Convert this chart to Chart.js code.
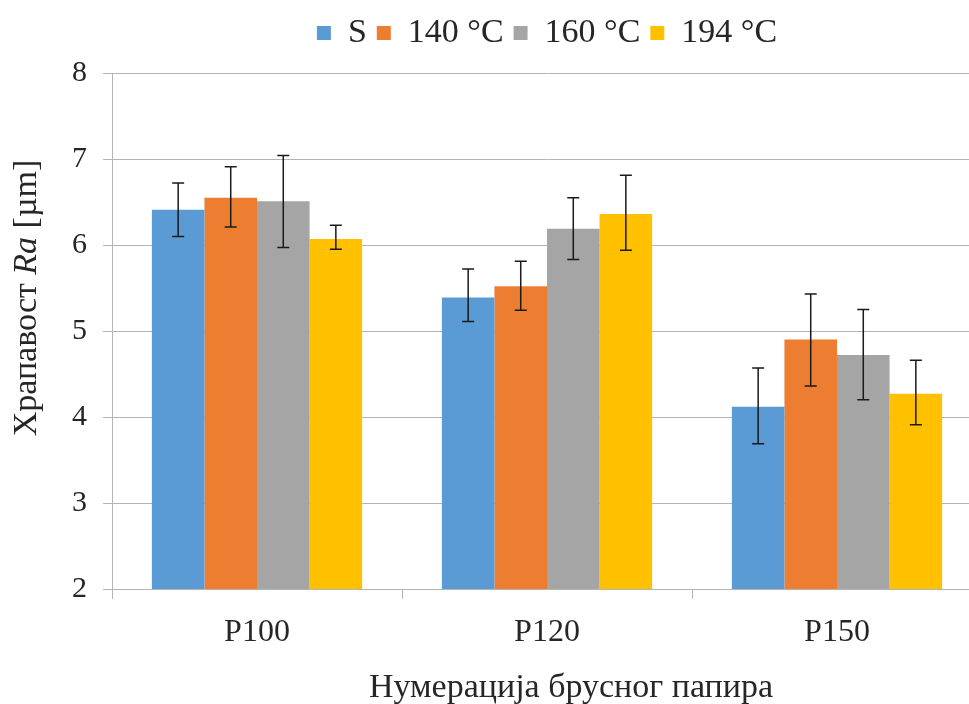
<!DOCTYPE html>
<html>
<head>
<meta charset="utf-8">
<script src="https://cdn.jsdelivr.net/npm/chart.js@4/dist/chart.umd.min.js"></script>
<style>
  html, body { margin: 0; padding: 0; background: #fff; overflow: hidden; }
  #wrap { width: 982px; height: 704px; }
</style>
</head>
<body>
<div id="wrap"><canvas id="chart" width="982" height="704"></canvas></div>
<script>
// data
const categories = ['P100', 'P120', 'P150'];
const seriesNames = ['S', '140 °C', '160 °C', '194 °C'];
const seriesColors = ['#5b9bd5', '#ed7d31', '#a5a5a5', '#ffc000'];

const valuesS   = [6.41, 5.39, 4.12];
const values140 = [6.55, 5.52, 4.90];
const values160 = [6.51, 6.19, 4.72];
const values194 = [6.07, 6.36, 4.27];

// error bar ends (upper / lower)
const errHighS   = [6.72, 5.72, 4.57];
const errLowS    = [6.10, 5.11, 3.69];
const errHigh140 = [6.91, 5.81, 5.43];
const errLow140  = [6.21, 5.24, 4.36];
const errHigh160 = [7.04, 6.55, 5.25];
const errLow160  = [5.97, 5.83, 4.20];
const errHigh194 = [6.23, 6.81, 4.66];
const errLow194  = [5.95, 5.94, 3.91];

const yTicks = [2, 3, 4, 5, 6, 7, 8];
const yTitle = ['Храпавост ', 'Ra', ' [µm]'];
const xTitle = 'Нумерација брусног папира';

const serif = "'Liberation Serif', 'DejaVu Serif', serif";
const textColor = '#262626';
const lineColor = '#b4b4b4';

const allValues = [valuesS, values140, values160, values194];
const allHigh = [errHighS, errHigh140, errHigh160, errHigh194];
const allLow = [errLowS, errLow140, errLow160, errLow194];

// error bars drawn through the y scale
const errorBars = {
    id: 'errorBars',
    afterDatasetsDraw(chart) {
        const ctx = chart.ctx;
        const y = chart.scales.y;
        ctx.save();
        ctx.strokeStyle = '#1a1a1a';
        ctx.lineWidth = 1.5;
        chart.data.datasets.forEach((ds, i) => {
            const meta = chart.getDatasetMeta(i);
            meta.data.forEach((bar, j) => {
                const yh = y.getPixelForValue(allHigh[i][j]);
                const yl = y.getPixelForValue(allLow[i][j]);
                const x = bar.x;
                ctx.beginPath();
                ctx.moveTo(x, yh); ctx.lineTo(x, yl);
                ctx.moveTo(x - 6, yh); ctx.lineTo(x + 6, yh);
                ctx.moveTo(x - 6, yl); ctx.lineTo(x + 6, yl);
                ctx.stroke();
            });
        });
        ctx.restore();
    }
};

// axis titles (y title has an italic part)
const axisTitles = {
    id: 'axisTitles',
    afterDraw(chart) {
        const ctx = chart.ctx;
        ctx.save();
        ctx.fillStyle = textColor;
        ctx.textBaseline = 'middle';

        // y title
        const fonts = ['34px ' + serif, 'italic 34px ' + serif, '34px ' + serif];
        let total = 0;
        const widths = yTitle.map((t, k) => {
            ctx.font = fonts[k];
            const w = ctx.measureText(t).width;
            total += w;
            return w;
        });
        ctx.translate(27, 298);
        ctx.rotate(-Math.PI / 2);
        let x = -total / 2;
        ctx.textAlign = 'left';
        yTitle.forEach((t, k) => {
            ctx.font = fonts[k];
            ctx.fillText(t, x, 0);
            x += widths[k];
        });
        ctx.setTransform(1, 0, 0, 1, 0, 0);

        // x title
        ctx.font = '34px ' + serif;
        ctx.textAlign = 'center';
        ctx.fillText(xTitle, 571, 688);
        ctx.restore();
    }
};

new Chart(document.getElementById('chart'), {
    type: 'bar',
    data: {
        labels: categories,
        datasets: allValues.map((vals, i) => ({
            label: seriesNames[i],
            data: vals,
            backgroundColor: seriesColors[i],
            borderWidth: 0,
            barPercentage: 1,
            categoryPercentage: 0.725
        }))
    },
    options: {
        responsive: false,
        animation: false,
        devicePixelRatio: 1,
        layout: { padding: { top: 6, left: 0, right: 0, bottom: 0 } },
        plugins: {
            legend: {
                position: 'top',
                fullSize: false,
                labels: {
                    font: { family: serif, size: 34 },
                    color: textColor,
                    boxWidth: 14,
                    boxHeight: 14,
                    padding: 10
                }
            },
            // blank spacer between legend and plot
            subtitle: {
                display: true,
                text: ' ',
                fullSize: false,
                weight: 500,
                font: { size: 13, lineHeight: 1 },
                padding: 0
            },
            tooltip: { enabled: false }
        },
        scales: {
            x: {
                grid: {
                    offset: true,
                    drawOnChartArea: false,
                    drawTicks: true,
                    tickLength: 10,
                    color: lineColor
                },
                border: { display: true, color: lineColor },
                ticks: {
                    font: { family: serif, size: 32 },
                    color: textColor,
                    padding: 14
                },
                afterFit(scale) { scale.height = 115; }
            },
            y: {
                min: 2,
                max: 8,
                afterBuildTicks(scale) { scale.ticks = yTicks.map(v => ({ value: v })); },
                grid: {
                    color: lineColor,
                    tickLength: 9
                },
                border: { display: true, color: lineColor },
                ticks: {
                    font: { family: serif, size: 30 },
                    color: textColor,
                    padding: 16
                },
                afterFit(scale) { scale.width = 112; }
            }
        }
    },
    plugins: [errorBars, axisTitles]
});
</script>
</body>
</html>
